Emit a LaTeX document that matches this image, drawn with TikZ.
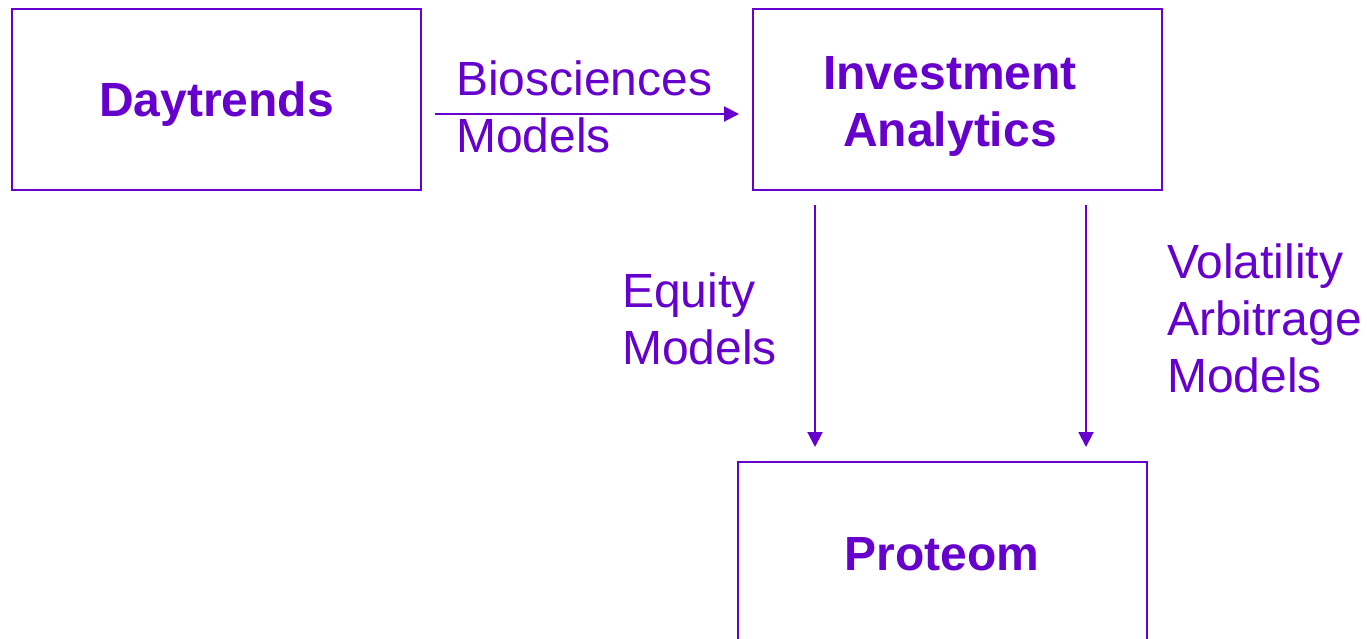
\documentclass[tikz,border=0pt]{standalone}
\usepackage{fontspec}
\setmainfont{Liberation Sans}
\usetikzlibrary{arrows.meta}
\definecolor{purp}{HTML}{6600CC}
\begin{document}
\begin{tikzpicture}[x=1pt,y=-1pt,
  box/.style={draw=purp,line width=2pt,minimum width=409pt,minimum height=181pt,inner sep=0pt},
  boxtext/.style={text=purp,font=\fontsize{48}{57}\selectfont\bfseries,align=center,inner sep=0pt},
  lbl/.style={text=purp,font=\fontsize{48}{57}\selectfont,align=left,inner sep=0pt,anchor=west},
  conn/.style={draw=purp,line width=2pt,-{Triangle[length=15pt,width=15pt]}}]
\useasboundingbox (0,0) rectangle (1367,639);
\node[box] (day) at (216.5,99.5) {};
\node[boxtext] (dayl) at (216.5,104) {Daytrends};
\node[box] (inv) at (957.5,99.5) {};
\node[boxtext] (invl) at (950,106) {Investment\\Analytics};
\node[box] (prot) at (942.5,552.5) {};
\node[boxtext] (protl) at (942,554) {Proteom};
\coordinate (h1) at (435,114);
\coordinate (h2) at (739,114);
\coordinate (v1a) at (815,205);
\coordinate (v1b) at (815,447);
\coordinate (v2a) at (1086,205);
\coordinate (v2b) at (1086,447);
\draw[conn] (h1) -- (h2);
\draw[conn] (v1a) -- (v1b);
\draw[conn] (v2a) -- (v2b);
\node[lbl] (bio) at (456,107) {Biosciences\\Models};
\node[lbl] (eq) at (622,319) {Equity\\Models};
\node[lbl] (vol) at (1167,318) {Volatility\\Arbitrage\\Models};
\end{tikzpicture}
\end{document}
